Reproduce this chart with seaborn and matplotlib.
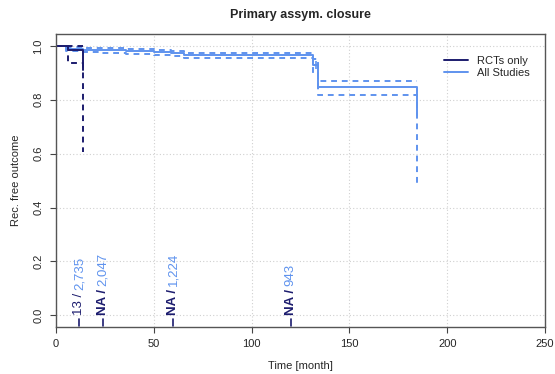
import matplotlib
matplotlib.use("Agg")
import matplotlib.pyplot as plt
import seaborn as sns
import pandas as pd

# ---- data ----
rct_time = [0, 6, 13.7]
rct_surv = [1.0, 0.986, 0.91]
rct_upper = [1.0, 1.0, 1.0]
rct_lower = [1.0, 0.935, 0.605]

all_time = [0, 5, 14, 22, 36, 50, 59, 65.5, 131.5, 134, 184.5]
all_surv = [1.0, 0.988, 0.986, 0.984, 0.980, 0.976, 0.972, 0.965, 0.93, 0.847, 0.745]
all_upper = [1.0, 0.996, 0.994, 0.992, 0.989, 0.985, 0.981, 0.974, 0.95, 0.87, 0.87]
all_lower = [1.0, 0.980, 0.978, 0.975, 0.971, 0.967, 0.963, 0.956, 0.90, 0.818, 0.49]

risk_times = [12, 24, 60, 120]
risk_rct = ["13", "NA", "NA", "NA"]
risk_all = ["2,735", "2,047", "1,224", "943"]

groups = ["RCTs only", "All Studies"]
title = "Primary assym. closure"
xlabel = "Time [month]"
ylabel = "Rec. free outcome"

DARK = "#1c1c6e"
LIGHT = "#5f93ee"

sns.set_theme(style="white")
plt.rcParams["font.family"] = ["Liberation Sans", "DejaVu Sans"]

fig = plt.figure(figsize=(5.55, 3.74), dpi=100)
ax = fig.add_axes([0.1009, 0.1257, 0.8811, 0.7826])

def draw(t, s, lo, hi, color, label):
    df = pd.DataFrame({"t": t, "s": s, "lo": lo, "hi": hi})
    sns.lineplot(data=df, x="t", y="s", ax=ax, color=color, lw=1.4,
                 drawstyle="steps-post", estimator=None, sort=False, label=label)
    for col in ["lo", "hi"]:
        sns.lineplot(data=df, x="t", y=col, ax=ax, color=color, lw=1.4,
                     drawstyle="steps-post", estimator=None, sort=False,
                     dashes=False, linestyle=(0, (3, 2.5)), legend=False)

draw(all_time, all_surv, all_lower, all_upper, LIGHT, groups[1])
draw(rct_time, rct_surv, rct_lower, rct_upper, DARK, groups[0])

# censor mark
ax.plot([133], [0.93], marker="|", ms=6, color=LIGHT, mew=1.2)

# at-risk annotations
for xt, r1, r2 in zip(risk_times, risk_rct, risk_all):
    ax.plot([xt, xt], [-0.04, -0.015], color=DARK, lw=1.2)
    t1 = ax.text(xt, 0.0, r1 + " / ", rotation=90, ha="center", va="bottom",
                 color=DARK, fontsize=9.5, fontweight="bold" if r1 == "NA" else "normal")
    ax.annotate(r2, xy=(0.5, 1.0), xycoords=t1, rotation=90, ha="center",
                va="bottom", color=LIGHT, fontsize=9.5)

ax.set_xlim(0, 250)
ax.set_ylim(-0.043, 1.043)
ax.set_xticks([0, 50, 100, 150, 200, 250])
ax.set_yticks([0.0, 0.2, 0.4, 0.6, 0.8, 1.0])
ax.set_yticklabels(["0.0", "0.2", "0.4", "0.6", "0.8", "1.0"], rotation=90, va="center")
ax.tick_params(axis="both", labelsize=8, length=4, width=0.8, color="#444444",
               bottom=True, left=True, direction="out", pad=5)
ax.grid(True, color="#d0d0d0", linestyle=(0, (1, 2)), lw=0.8)
for sp in ax.spines.values():
    sp.set_color("#555555")
    sp.set_linewidth(1.0)

ax.set_xlabel(xlabel, fontsize=8, labelpad=8)
ax.set_ylabel(ylabel, fontsize=8, labelpad=9)
ax.set_title(title, fontsize=9, fontweight="bold", pad=12)

h, l = ax.get_legend_handles_labels()
order = [l.index(groups[0]), l.index(groups[1])]
ax.legend([h[i] for i in order], [l[i] for i in order], loc="upper right",
          bbox_to_anchor=(0.99, 0.96), frameon=False, fontsize=8,
          handlelength=2.2, labelspacing=0.2)

fig.savefig("out.png", dpi=100)
